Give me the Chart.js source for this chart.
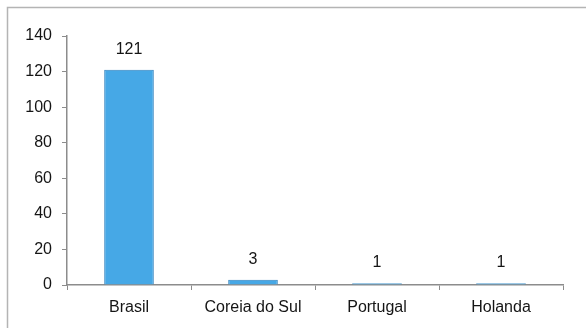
<!DOCTYPE html>
<html>
<head>
<meta charset="utf-8">
<script src="https://cdn.jsdelivr.net/npm/chart.js@4/dist/chart.umd.min.js"></script>
<style>
  html, body { margin: 0; padding: 0; background: #ffffff; }
  #wrap { width: 586px; height: 328px; position: relative; }
</style>
</head>
<body>
<div id="wrap"><canvas id="c" width="586" height="328"></canvas></div>
<script>
const categories = ['Brasil', 'Coreia do Sul', 'Portugal', 'Holanda'];
const values = [121, 3, 1, 1];
const yTicks = [0, 20, 40, 60, 80, 100, 120, 140];

const FONT = '"Liberation Sans", Arial, sans-serif';
const TEXT = '#151515';
const SIZE = 16;

// Thin frame around the plot panel (left and top edges visible)
const framePlugin = {
  id: 'frame',
  beforeDraw(chart) {
    const ctx = chart.ctx;
    ctx.save();
    ctx.strokeStyle = '#b4b4b4';
    ctx.lineWidth = 1.5;
    ctx.beginPath();
    ctx.moveTo(7.5, chart.height + 5);
    ctx.lineTo(7.5, 7.5);
    ctx.lineTo(chart.width + 5, 7.5);
    ctx.stroke();
    ctx.restore();
  }
};

// Value labels above each bar
const valueLabels = {
  id: 'valueLabels',
  afterDatasetsDraw(chart) {
    const ctx = chart.ctx;
    const meta = chart.getDatasetMeta(0);
    ctx.save();
    ctx.fillStyle = TEXT;
    ctx.font = SIZE + 'px ' + FONT;
    ctx.textAlign = 'center';
    ctx.textBaseline = 'middle';
    meta.data.forEach((bar, i) => {
      ctx.fillText(String(values[i]), bar.x, bar.y - 20.5);
    });
    ctx.restore();
  }
};

// Shaded blue bar fill: darker at the sides, lighter in the middle
function barFill(context) {
  const chart = context.chart;
  const el = context.element;
  if (!el || el.x === undefined) return '#46a8e6';
  const w = el.width || 49;
  const g = chart.ctx.createLinearGradient(el.x - w / 2, 0, el.x + w / 2, 0);
  g.addColorStop(0, '#2f86c4');
  g.addColorStop(0.08, '#44a3e2');
  g.addColorStop(0.5, '#4aabe8');
  g.addColorStop(0.92, '#44a3e2');
  g.addColorStop(1, '#2a7bb6');
  return g;
}

new Chart(document.getElementById('c'), {
  type: 'bar',
  data: {
    labels: categories,
    datasets: [{
      data: values,
      backgroundColor: barFill,
      borderColor: '#2f80bd',
      borderWidth: 1,
      borderSkipped: 'bottom',
      barPercentage: 0.4,
      categoryPercentage: 1.0
    }]
  },
  options: {
    responsive: false,
    animation: false,
    events: [],
    layout: { padding: { top: 36, right: 23, bottom: 0, left: 0 } },
    plugins: {
      legend: { display: false },
      tooltip: { enabled: false }
    },
    scales: {
      x: {
        grid: {
          display: true,
          drawOnChartArea: false,
          drawTicks: true,
          tickLength: 5,
          color: '#8c8c8c',
          offset: true
        },
        border: { display: true, color: '#8c8c8c', width: 1.5 },
        ticks: {
          color: TEXT,
          font: { family: FONT, size: SIZE },
          padding: 8,
          maxRotation: 0
        },
        afterFit(scale) { scale.height = 43; }
      },
      y: {
        min: 0,
        max: 140,
        afterBuildTicks(scale) {
          scale.ticks = yTicks.map(v => ({ value: v }));
        },
        grid: {
          display: true,
          drawOnChartArea: false,
          drawTicks: true,
          tickLength: 5,
          color: '#8c8c8c'
        },
        border: { display: true, color: '#8c8c8c', width: 1.5 },
        ticks: {
          color: TEXT,
          font: { family: FONT, size: SIZE },
          padding: 10
        },
        afterFit(scale) { scale.width = 67; }
      }
    }
  },
  plugins: [framePlugin, valueLabels]
});
</script>
</body>
</html>
